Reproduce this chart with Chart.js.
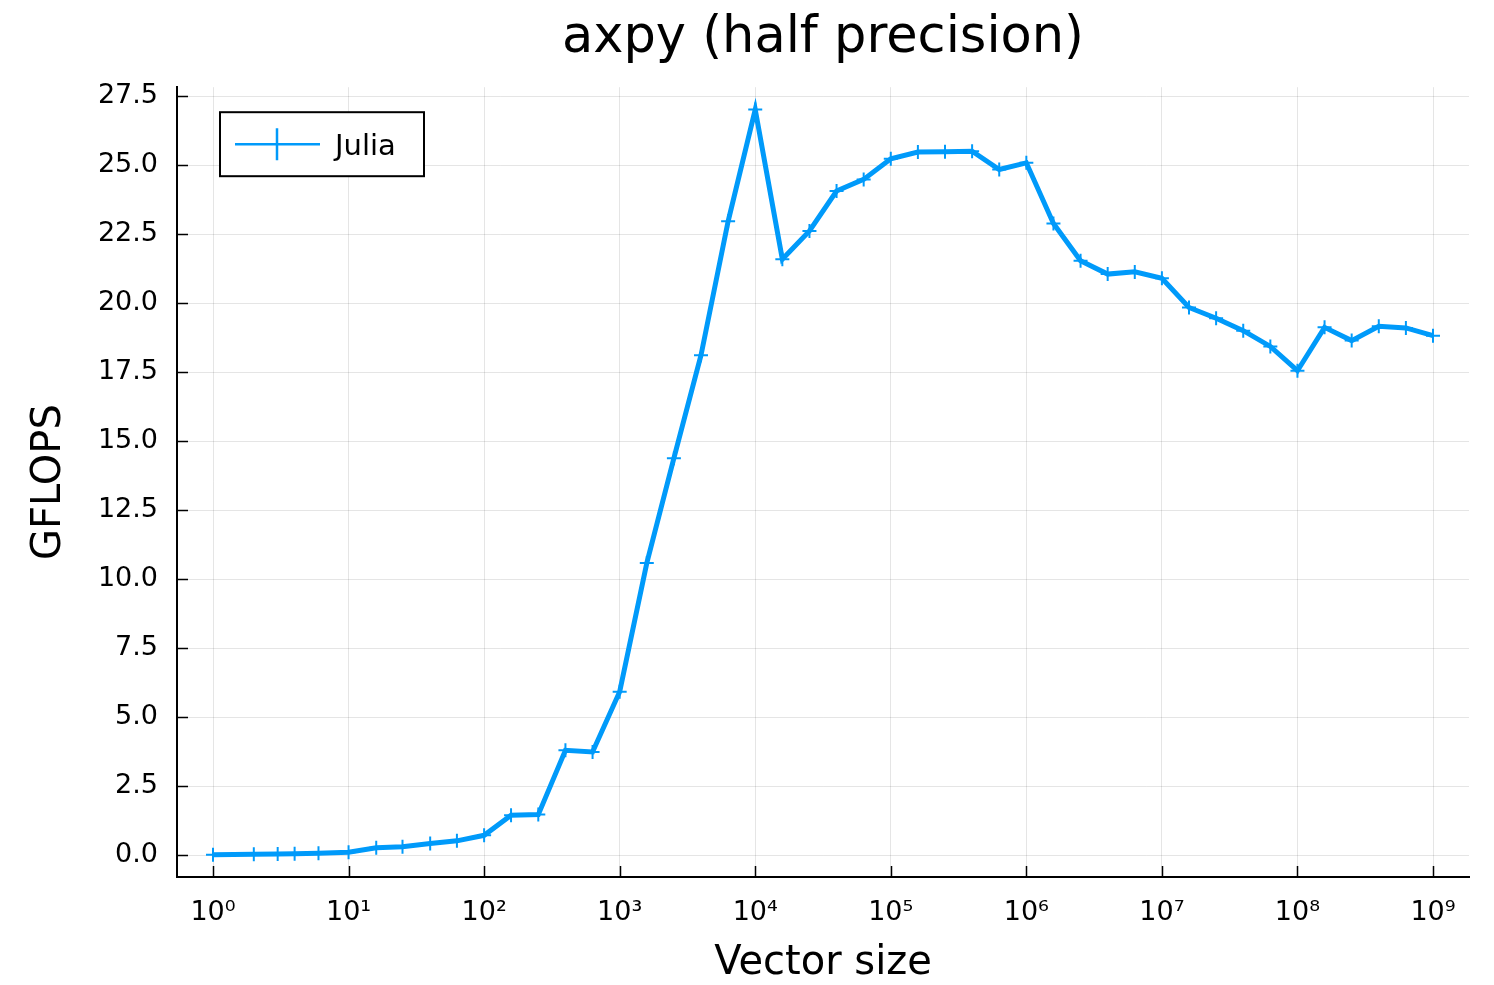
<!DOCTYPE html>
<html>
<head>
<meta charset="utf-8">
<script src="https://cdn.jsdelivr.net/npm/chart.js@4/dist/chart.umd.min.js"></script>
<style>
  html, body { margin: 0; padding: 0; background: #fff; }
  #wrap { width: 1494px; height: 985px; }
</style>
</head>
<body>
<div id="wrap"><canvas id="perfChart" width="1494" height="985"></canvas></div>
<script>
const vectorSizes = [
    1, 2, 3, 4, 6, 10, 16, 25, 40, 63,
    100, 158, 251, 398, 631, 1000, 1585, 2512, 3981, 6310,
    10000, 15849, 25119, 39811, 63096, 100000, 158489, 251189, 398107, 630957,
    1000000, 1584893, 2511886, 3981072, 6309573, 10000000, 15848932, 25118864, 39810717, 63095734,
    100000000, 158489319, 251188643, 398107171, 630957344, 1000000000
];
const gflops = [
    0.03, 0.04, 0.05, 0.06, 0.08, 0.12, 0.28, 0.32, 0.43, 0.53,
    0.73, 1.46, 1.48, 3.81, 3.75, 5.93, 10.59, 14.39, 18.12, 22.97,
    27.02, 21.6, 22.62, 24.07, 24.49, 25.24, 25.48, 25.49, 25.51, 24.85,
    25.09, 22.89, 21.54, 21.06, 21.14, 20.91, 19.85, 19.46, 19.01, 18.44,
    17.56, 19.13, 18.65, 19.17, 19.11, 18.83
];
const xTickValues = [1, 10, 100, 1000, 1e4, 1e5, 1e6, 1e7, 1e8, 1e9];
const xTickLabels = ['10⁰', '10¹', '10²', '10³', '10⁴', '10⁵', '10⁶', '10⁷', '10⁸', '10⁹'];
const yTickValues = [0, 2.5, 5, 7.5, 10, 12.5, 15, 17.5, 20, 22.5, 25, 27.5];
const seriesName = 'Julia';

const lineColor = '#009AFA';
const fontFamily = '"DejaVu Sans", sans-serif';

// inward tick marks like the original plot
const innerTicks = {
    id: 'innerTicks',
    beforeDatasetsDraw(chart) {
        const ctx = chart.ctx;
        const xs = chart.scales.x, ys = chart.scales.y;
        const area = chart.chartArea;
        ctx.save();
        ctx.strokeStyle = '#000';
        ctx.lineWidth = 1.5;
        ctx.beginPath();
        yTickValues.forEach(v => {
            const y = Math.round(ys.getPixelForValue(v)) + 0.5;
            ctx.moveTo(area.left, y);
            ctx.lineTo(area.left + 11, y);
        });
        xTickValues.forEach(v => {
            const x = Math.round(xs.getPixelForValue(v)) + 0.5;
            ctx.moveTo(x, area.bottom);
            ctx.lineTo(x, area.bottom - 11);
        });
        ctx.stroke();
        ctx.restore();
    }
};

// boxed legend in the top-left corner of the plot
const boxLegend = {
    id: 'boxLegend',
    afterDraw(chart) {
        const ctx = chart.ctx;
        const area = chart.chartArea;
        const bx = area.left + 43, by = area.top + 25, bw = 204, bh = 64;
        const cy = by + bh / 2;
        ctx.save();
        ctx.fillStyle = '#fff';
        ctx.fillRect(bx, by, bw, bh);
        ctx.strokeStyle = '#000';
        ctx.lineWidth = 2;
        ctx.strokeRect(bx, by, bw, bh);
        ctx.strokeStyle = lineColor;
        ctx.lineWidth = 2.5;
        ctx.beginPath();
        ctx.moveTo(bx + 15, cy);
        ctx.lineTo(bx + 100, cy);
        ctx.moveTo(bx + 57, cy - 16);
        ctx.lineTo(bx + 57, cy + 16);
        ctx.stroke();
        ctx.fillStyle = '#000';
        ctx.font = '29px ' + fontFamily;
        ctx.textBaseline = 'middle';
        ctx.fillText(seriesName, bx + 115, cy + 3);
        ctx.restore();
    }
};

const ctx = document.getElementById('perfChart').getContext('2d');
new Chart(ctx, {
    type: 'line',
    data: {
        datasets: [{
            label: seriesName,
            data: vectorSizes.map((v, i) => ({ x: v, y: gflops[i] })),
            borderColor: lineColor,
            backgroundColor: lineColor,
            borderWidth: 5,
            pointStyle: 'cross',
            pointRadius: 7,
            pointBorderWidth: 2,
            pointBorderColor: lineColor,
            tension: 0
        }]
    },
    options: {
        responsive: false,
        animation: false,
        layout: { padding: { left: 0, right: 25, top: 0, bottom: 0 } },
        plugins: {
            legend: { display: false },
            tooltip: { enabled: false },
            title: {
                display: true,
                fullSize: false,
                text: 'axpy (half precision)',
                color: '#000',
                font: { family: fontFamily, size: 51, weight: 'normal' },
                padding: { top: 8, bottom: 18 }
            }
        },
        scales: {
            x: {
                type: 'logarithmic',
                min: 0.5425,
                max: 1.843e9,
                bounds: 'data',
                afterBuildTicks: scale => {
                    scale.ticks = xTickValues.map(v => ({ value: v }));
                },
                afterFit: scale => {
                    scale.height = 108;
                    scale.paddingLeft = 0;
                    scale.paddingRight = 0;
                },
                ticks: {
                    autoSkip: false,
                    maxRotation: 0,
                    padding: 20,
                    color: '#000',
                    font: { family: fontFamily, size: 27 },
                    callback: (value, index) => xTickLabels[index]
                },
                grid: { color: 'rgba(0,0,0,0.1)', lineWidth: 1, drawTicks: false },
                border: { color: '#000', width: 2 },
                title: {
                    display: true,
                    text: 'Vector size',
                    color: '#000',
                    font: { family: fontFamily, size: 40 },
                    padding: { top: 0, bottom: -3 }
                }
            },
            y: {
                type: 'linear',
                min: -0.78,
                max: 27.83,
                bounds: 'data',
                afterBuildTicks: scale => {
                    scale.ticks = yTickValues.map(v => ({ value: v }));
                },
                afterFit: scale => {
                    scale.width = 177;
                    scale.paddingTop = 0;
                    scale.paddingBottom = 0;
                },
                ticks: {
                    padding: 19,
                    color: '#000',
                    font: { family: fontFamily, size: 27 },
                    callback: value => value.toFixed(1)
                },
                grid: { color: 'rgba(0,0,0,0.1)', lineWidth: 1, drawTicks: false },
                border: { color: '#000', width: 2 },
                title: {
                    display: true,
                    text: 'GFLOPS',
                    color: '#000',
                    font: { family: fontFamily, size: 40 },
                    padding: { top: 26, bottom: 0 }
                }
            }
        }
    },
    plugins: [innerTicks, boxLegend]
});
</script>
</body>
</html>
